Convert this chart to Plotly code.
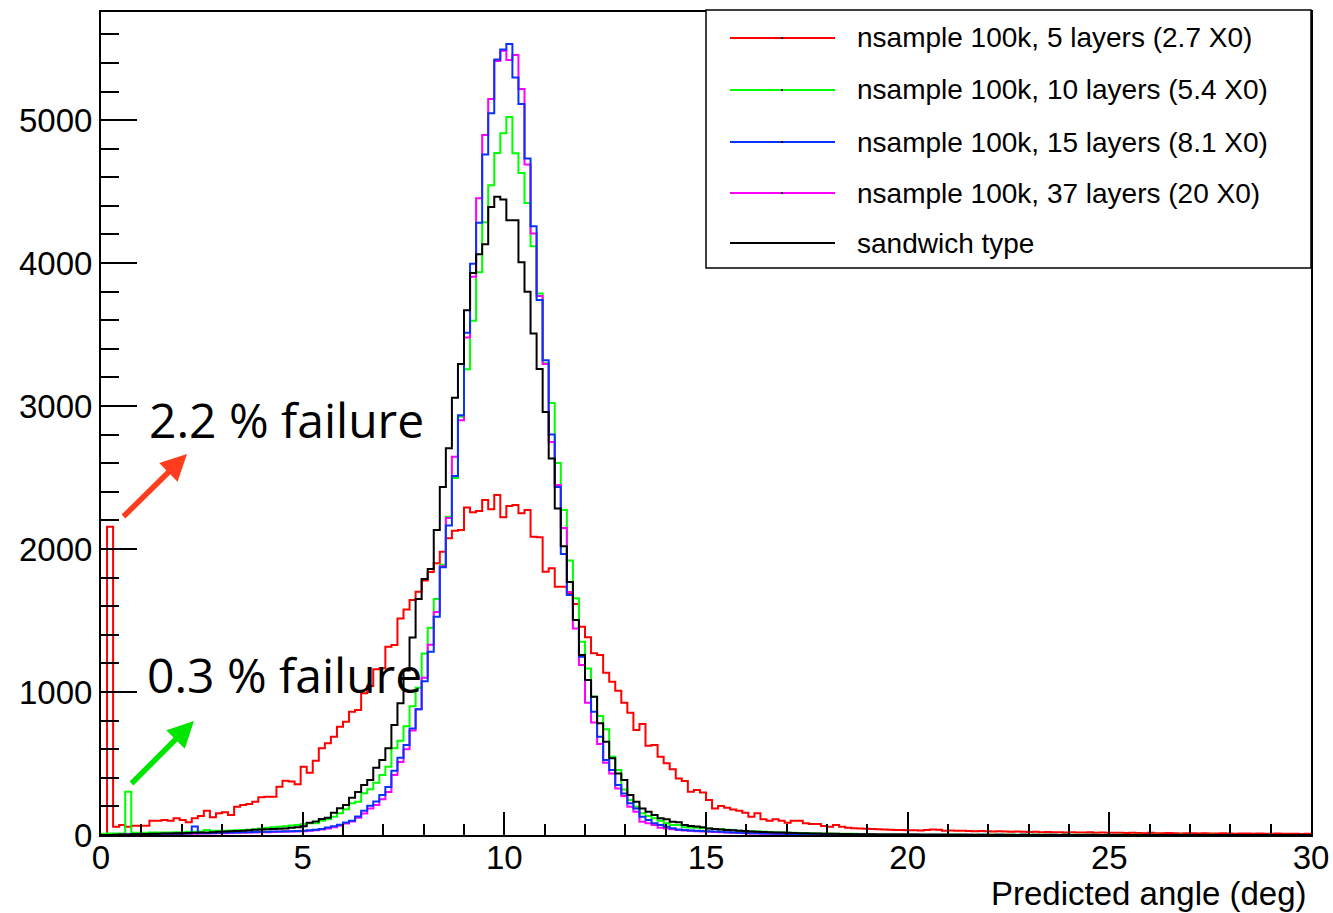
import plotly.graph_objects as go

# ---------------- data ----------------
BIN_WIDTH = 0.15
N_BINS = 200
edges = [round(i * BIN_WIDTH, 4) for i in range(N_BINS + 1)]

series_names = [
    "nsample 100k, 5 layers (2.7 X0)",
    "nsample 100k, 10 layers (5.4 X0)",
    "nsample 100k, 15 layers (8.1 X0)",
    "nsample 100k, 37 layers (20 X0)",
    "sandwich type",
]
series_colors = ["#ff0000", "#00ff00", "#0a32ff", "#ff00ff", "#000000"]

red_5layers = [
    0, 2156, 58, 70, 58, 64, 64, 64, 100, 100,
    105, 100, 117, 105, 89, 117, 133, 170, 124, 152,
    159, 140, 198, 210, 217, 233, 264, 268, 268, 338,
    380, 375, 355, 478, 436, 520, 606, 641, 688, 757,
    792, 862, 874, 991, 1042, 1159, 1166, 1317, 1329, 1515,
    1578, 1643, 1701, 1780, 1840, 1900, 1981, 2075, 2128, 2133,
    2291, 2257, 2266, 2343, 2278, 2378, 2222, 2301, 2308, 2250,
    2273, 2086, 2082, 1841, 1865, 1737, 1737, 1690, 1615, 1457,
    1383, 1271, 1259, 1135, 1072, 1009, 925, 855, 734, 776,
    625, 629, 548, 501, 459, 396, 378, 303, 315, 298,
    245, 186, 203, 191, 179, 170, 156, 128, 152, 110,
    100, 110, 100, 86, 100, 100, 82, 77, 77, 63,
    58, 70, 58, 51, 48, 45, 44, 42, 40, 38,
    36, 35, 35, 33, 34, 32, 35, 38, 36, 30,
    31, 29, 30, 28, 27, 28, 26, 25, 27, 24,
    23, 25, 22, 21, 22, 20, 21, 19, 20, 18,
    19, 18, 17, 19, 16, 17, 15, 16, 15, 14,
    16, 14, 13, 15, 13, 12, 14, 12, 11, 13,
    12, 11, 12, 10, 11, 12, 10, 9, 11, 10,
    9, 10, 8, 9, 10, 8, 9, 8, 7, 8,
]

green_10layers = [
    8, 10, 10, 10, 303, 15, 15, 16, 17, 17,
    18, 18, 20, 20, 22, 22, 25, 35, 28, 30,
    30, 32, 34, 35, 37, 40, 45, 50, 55, 58,
    62, 66, 70, 77, 82, 82, 100, 110, 128, 152,
    180, 222, 233, 292, 320, 366, 420, 478, 606, 660,
    760, 900, 1030, 1270, 1450, 1650, 1890, 2225, 2496, 2925,
    3258, 3597, 3935, 4285, 4545, 4770, 4908, 5022, 4768, 4630,
    4420, 4117, 3787, 3300, 3021, 2601, 2273, 1920, 1655, 1352,
    1165, 967, 832, 739, 548, 455, 319, 245, 198, 152,
    133, 117, 100, 82, 70, 70, 54, 52, 50, 48,
    45, 42, 40, 36, 34, 30, 28, 26, 24, 22,
    20, 19, 17, 16, 15, 14, 13, 12, 11, 10,
    10, 9, 9, 8, 8, 7, 7, 6, 6, 6,
    5, 5, 5, 4, 4, 4, 4, 3, 3, 3,
    3, 3, 3, 2, 2, 2, 2, 2, 2, 2,
    2, 2, 1, 1, 1, 1, 1, 1, 1, 1,
    1, 1, 1, 1, 1, 0, 1, 0, 1, 0,
    0, 1, 0, 0, 1, 0, 0, 0, 1, 0,
    0, 0, 0, 1, 0, 0, 0, 0, 0, 0,
    0, 0, 0, 0, 0, 0, 0, 0, 0, 0,
]

blue_15layers = [
    0, 0, 0, 2, 3, 4, 5, 5, 6, 7,
    8, 8, 9, 10, 10, 60, 12, 13, 14, 15,
    16, 17, 18, 19, 20, 21, 22, 23, 24, 25,
    26, 27, 28, 30, 33, 37, 42, 52, 62, 72,
    88, 100, 130, 170, 205, 235, 280, 336, 450, 540,
    630, 745, 880, 1075, 1282, 1527, 1872, 2165, 2510, 2935,
    3513, 3995, 4282, 4760, 5048, 5424, 5494, 5532, 5298, 5112,
    4731, 4257, 3741, 3321, 2801, 2434, 1965, 1678, 1503, 1247,
    1084, 862, 688, 524, 455, 350, 291, 222, 186, 128,
    105, 82, 70, 58, 47, 38, 35, 32, 30, 28,
    26, 24, 22, 20, 18, 16, 15, 13, 12, 11,
    10, 9, 8, 7, 7, 6, 6, 5, 5, 4,
    4, 4, 3, 3, 3, 3, 2, 2, 2, 2,
    2, 2, 1, 1, 1, 1, 1, 1, 1, 1,
    1, 1, 0, 1, 0, 1, 0, 0, 1, 0,
    0, 0, 1, 0, 0, 0, 0, 1, 0, 0,
    0, 0, 0, 0, 0, 0, 0, 0, 0, 0,
    0, 0, 0, 0, 0, 0, 0, 0, 0, 0,
    0, 0, 0, 0, 0, 0, 0, 0, 0, 0,
    0, 0, 0, 0, 0, 0, 0, 0, 0, 0,
]

magenta_37layers = [
    0, 0, 0, 1, 2, 3, 3, 4, 5, 5,
    6, 6, 7, 8, 8, 9, 10, 10, 11, 12,
    13, 14, 15, 16, 17, 18, 19, 20, 21, 22,
    23, 24, 25, 27, 30, 33, 38, 45, 55, 65,
    80, 95, 120, 150, 185, 210, 250, 300, 420, 510,
    600, 730, 880, 1100, 1330, 1560, 1880, 2217, 2645, 2900,
    3480, 3904, 4454, 4895, 5147, 5413, 5485, 5420, 5455, 5217,
    4690, 4206, 3769, 3295, 2748, 2448, 2147, 1700, 1445, 1189,
    925, 786, 636, 506, 431, 326, 273, 198, 163, 93,
    82, 70, 50, 45, 40, 35, 32, 30, 27, 25,
    23, 21, 19, 17, 15, 14, 13, 11, 10, 9,
    8, 8, 7, 6, 6, 5, 5, 4, 4, 4,
    3, 3, 3, 3, 2, 2, 2, 2, 2, 1,
    1, 1, 1, 1, 1, 1, 0, 1, 0, 1,
    0, 0, 1, 0, 0, 0, 0, 0, 0, 0,
    0, 0, 0, 0, 0, 0, 0, 0, 0, 0,
    0, 0, 0, 0, 0, 0, 0, 0, 0, 0,
    0, 0, 0, 0, 0, 0, 0, 0, 0, 0,
    0, 0, 0, 0, 0, 0, 0, 0, 0, 0,
    0, 0, 0, 0, 0, 0, 0, 0, 0, 0,
]

black_sandwich = [
    0, 0, 2, 3, 4, 5, 6, 7, 8, 9,
    10, 11, 12, 13, 14, 15, 17, 18, 20, 22,
    24, 26, 28, 30, 33, 36, 38, 40, 42, 44,
    45, 50, 55, 62, 85, 95, 112, 120, 156, 187,
    210, 260, 300, 350, 385, 470, 524, 606, 769, 921,
    1150, 1382, 1650, 1790, 1860, 2133, 2434, 2705, 3058, 3295,
    3670, 3931, 4061, 4131, 4393, 4463, 4445, 4300, 4300, 4005,
    3800, 3507, 3259, 2958, 2634, 2284, 2020, 1770, 1503, 1259,
    1084, 967, 781, 653, 536, 431, 385, 280, 233, 186,
    163, 140, 117, 110, 93, 90, 70, 63, 60, 55,
    45, 42, 38, 35, 33, 30, 28, 25, 23, 21,
    20, 18, 17, 15, 14, 13, 12, 11, 10, 9,
    9, 8, 7, 7, 6, 6, 5, 5, 4, 4,
    4, 3, 3, 3, 3, 2, 2, 2, 2, 2,
    2, 1, 1, 1, 1, 1, 1, 1, 1, 1,
    1, 0, 1, 0, 1, 0, 1, 0, 0, 1,
    0, 0, 0, 1, 0, 0, 0, 0, 0, 0,
    0, 0, 0, 0, 0, 0, 0, 0, 0, 0,
    0, 0, 0, 0, 0, 0, 0, 0, 0, 0,
    0, 0, 0, 0, 0, 0, 0, 0, 0, 0,
]

series_values = [red_5layers, green_10layers, blue_15layers, magenta_37layers, black_sandwich]
draw_order = [0, 1, 3, 2, 4]

x_range = [0, 30]
y_range = [0, 5756]
x_title = "Predicted angle (deg)"
failure_texts = ["2.2 % failure", "0.3 % failure"]

# ---------------- figure ----------------
FONT = "Liberation Sans, Arial, Helvetica, sans-serif"
fig = go.Figure()

for idx in draw_order:
    vals = series_values[idx]
    fig.add_trace(go.Scatter(
        x=edges,
        y=list(vals) + [vals[-1]],
        mode="lines",
        name=series_names[idx],
        line=dict(color=series_colors[idx], width=2, shape="hv"),
        showlegend=False,
        hoverinfo="skip",
    ))

# plot-area geometry (pixels)
W, H = 1333, 913
L, R, T, B = 101, 22, 12, 78
pw, ph = W - L - R, H - T - B


def px_x(px):
    return (px - L) / pw


def px_y(py):
    return (H - B - py) / ph


shapes = []
annotations = []

# manual ROOT-style legend
shapes.append(dict(type="rect", xref="paper", yref="paper",
                   x0=px_x(706), x1=px_x(1311), y0=px_y(268), y1=px_y(10),
                   line=dict(color="black", width=1.5), fillcolor="white", layer="above"))
row_y = [38, 90, 142, 193, 243]
for i, name in enumerate(series_names):
    shapes.append(dict(type="line", xref="paper", yref="paper",
                       x0=px_x(730), x1=px_x(835), y0=px_y(row_y[i]), y1=px_y(row_y[i]),
                       line=dict(color=series_colors[i], width=2), layer="above"))
    shapes.append(dict(type="rect", xref="paper", yref="paper",
                       x0=px_x(781), x1=px_x(783), y0=px_y(row_y[i] + 1), y1=px_y(row_y[i] - 1),
                       line=dict(width=0), fillcolor="black", layer="above"))
    annotations.append(dict(xref="paper", yref="paper", x=px_x(855), y=px_y(row_y[i]),
                            text=name, showarrow=False, xanchor="left", yanchor="middle",
                            font=dict(family=FONT, size=28, color="black")))

# failure texts
annotations.append(dict(xref="paper", yref="paper", x=px_x(147), y=px_y(419),
                        text=failure_texts[0], showarrow=False, xanchor="left", yanchor="middle",
                        font=dict(family="Open Sans, Noto Sans, sans-serif", size=48, color="black")))
annotations.append(dict(xref="paper", yref="paper", x=px_x(145), y=px_y(674),
                        text=failure_texts[1], showarrow=False, xanchor="left", yanchor="middle",
                        font=dict(family="Open Sans, Noto Sans, sans-serif", size=48, color="black")))

# arrows
annotations.append(dict(xref="paper", yref="paper", x=px_x(187), y=px_y(454), ax=-65, ay=64,
                        text="", showarrow=True, arrowhead=2, arrowsize=0.95, arrowwidth=5.5,
                        arrowcolor="#ff3c1e"))
annotations.append(dict(xref="paper", yref="paper", x=px_x(194), y=px_y(721), ax=-64, ay=64,
                        text="", showarrow=True, arrowhead=2, arrowsize=0.95, arrowwidth=5.5,
                        arrowcolor="#00e600"))

# x title (right aligned like ROOT)
annotations.append(dict(xref="paper", yref="paper", x=px_x(1309), y=px_y(893),
                        text=x_title, showarrow=False, xanchor="right", yanchor="middle",
                        font=dict(family=FONT, size=33, color="black")))

fig.update_layout(
    width=W, height=H,
    margin=dict(l=L, r=R, t=T, b=B, pad=0, autoexpand=False),
    paper_bgcolor="white", plot_bgcolor="white",
    shapes=shapes, annotations=annotations,
    showlegend=False,
    font=dict(family=FONT, size=33, color="black"),
)

fig.update_xaxes(
    range=x_range, showgrid=False, zeroline=False, automargin=False,
    showline=True, linecolor="black", linewidth=2, mirror=True,
    ticks="inside", ticklen=23, tickwidth=1.5, tickcolor="black",
    tick0=0, dtick=5, ticklabelstandoff=-8,
    tickfont=dict(family=FONT, size=33, color="black"),
    minor=dict(ticks="inside", dtick=1, ticklen=11, tickwidth=1.5, tickcolor="black", showgrid=False),
)
fig.update_yaxes(
    range=y_range, showgrid=False, zeroline=False, automargin=False,
    showline=True, linecolor="black", linewidth=2, mirror=True,
    ticks="inside", ticklen=36, tickwidth=1.5, tickcolor="black",
    tick0=0, dtick=1000,
    tickfont=dict(family=FONT, size=33, color="black"),
    minor=dict(ticks="inside", dtick=200, ticklen=18, tickwidth=1.5, tickcolor="black", showgrid=False),
)

fig.write_html("out.html")
